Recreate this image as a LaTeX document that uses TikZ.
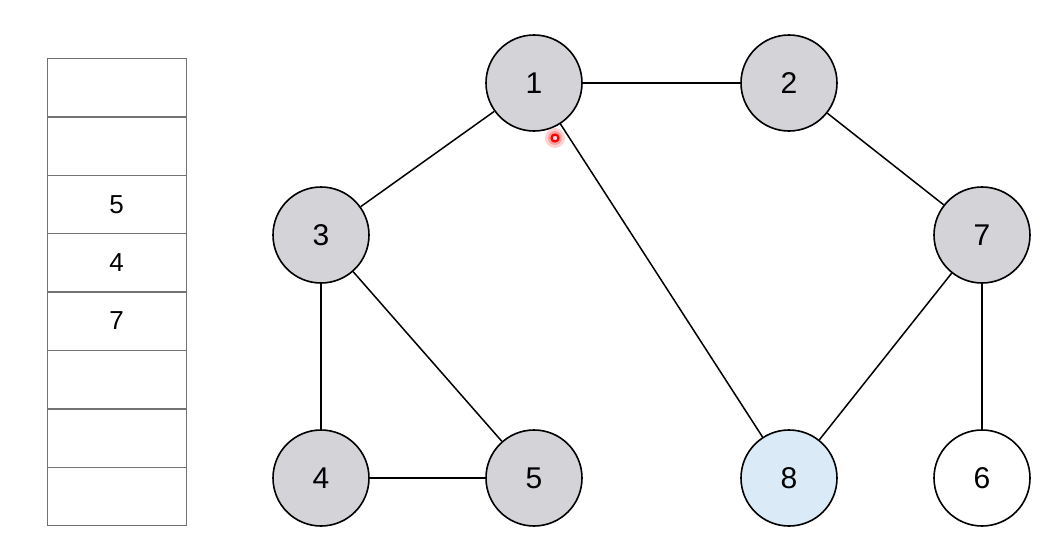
\documentclass[tikz,border=0pt]{standalone}
\usepackage{fontspec}
\setmainfont{Liberation Sans}
\usepackage{xcolor}
\definecolor{visited}{HTML}{D4D3D8}
\definecolor{current}{HTML}{DBEAF7}

\begin{document}
\begin{tikzpicture}[x=1pt, y=-1pt,
    vertex/.style={circle, draw, line width=1.6pt, minimum size=96pt, inner sep=0pt, font=\fontsize{30}{32}\selectfont},
    edge/.style={line width=1.5pt}]
    \useasboundingbox (0,0) rectangle (1055,546);

    % queue
    \foreach \y in {58,117,175,233,292,350,409,467} {
        \draw[line width=0.9pt, black!55] (47,\y) rectangle (186,\y+58.5);
    }
    \node[font=\fontsize{26}{28}\selectfont] (q3) at (116.5,204.5) {5};
    \node[font=\fontsize{26}{28}\selectfont] (q4) at (116.5,263) {4};
    \node[font=\fontsize{26}{28}\selectfont] (q5) at (116.5,321) {7};

    % graph
    \node[vertex, fill=visited] (n1) at (534,83) {1};
    \node[vertex, fill=visited] (n2) at (789,83) {2};
    \node[vertex, fill=visited] (n3) at (321,235) {3};
    \node[vertex, fill=visited] (n7) at (982,235) {7};
    \node[vertex, fill=visited] (n4) at (321,478) {4};
    \node[vertex, fill=visited] (n5) at (534,478) {5};
    \node[vertex, fill=current] (n8) at (789,478) {8};
    \node[vertex, fill=white] (n6) at (982,478) {6};

    \draw[edge] (n1) -- (n2);
    \draw[edge] (n1) -- (n3);
    \draw[edge] (n1) -- (n8);
    \draw[edge] (n2) -- (n7);
    \draw[edge] (n3) -- (n4);
    \draw[edge] (n3) -- (n5);
    \draw[edge] (n4) -- (n5);
    \draw[edge] (n7) -- (n8);
    \draw[edge] (n7) -- (n6);

    % pointer
    \fill[red!30, opacity=.6] (555,138) circle (10);
    \fill[red!50, opacity=.6] (555,138) circle (7);
    \draw[red, line width=2.2pt, fill=red!15] (555,138) circle (3.5);
\end{tikzpicture}
\end{document}
